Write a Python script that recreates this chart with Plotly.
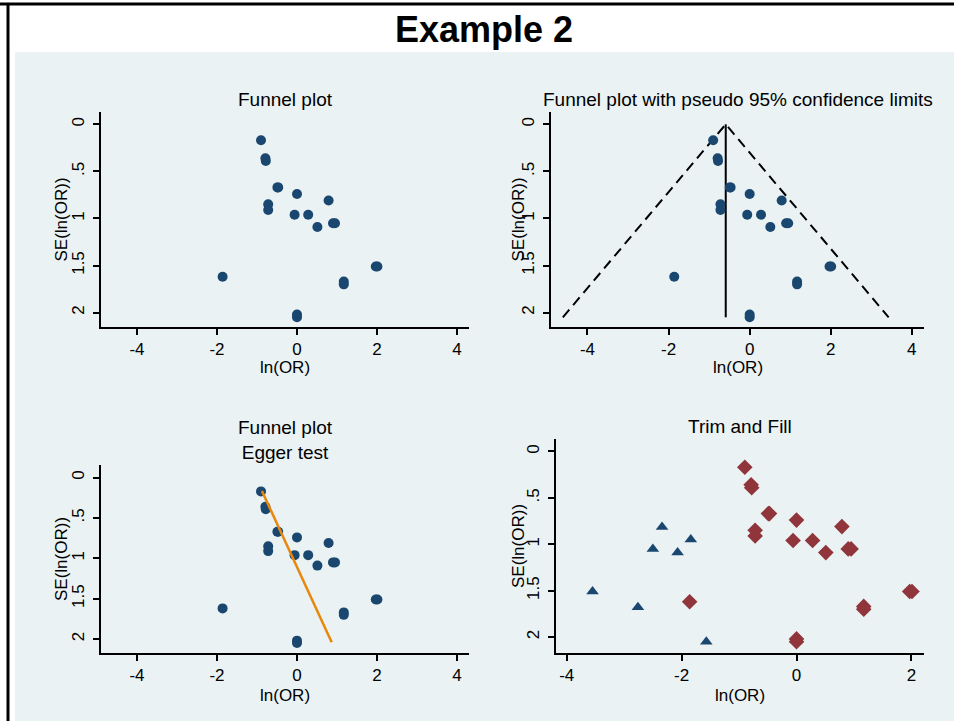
import plotly.graph_objects as go

# ---------------- data ----------------
ln_or = [-0.90, -0.79, -0.78, -0.49, -0.47, 0.00, 0.79, -0.72, -0.72, -0.06,
         0.28, 0.51, 0.90, 0.95, 1.97, 2.01, -1.86, 1.17, 1.17, 0.00, 0.00]
se_ln_or = [0.17, 0.36, 0.39, 0.67, 0.67, 0.74, 0.81, 0.85, 0.91, 0.96,
            0.96, 1.09, 1.05, 1.05, 1.51, 1.51, 1.62, 1.67, 1.70, 2.02, 2.05]

fill_ln_or = [-2.34, -1.84, -2.50, -2.07, -3.55, -2.76, -1.57]
fill_se = [0.815, 0.95, 1.05, 1.09, 1.51, 1.68, 2.05]

pooled_ln_or = -0.59
z95 = 1.96
funnel_se_max = 2.05

egger_intercept = -1.03
egger_slope = 0.93
egger_se_range = [0.165, 2.04]

x_ticks = [-4, -2, 0, 2, 4]
x_ticks_tf = [-4, -2, 0, 2]
y_ticks = [0, 0.5, 1, 1.5, 2]
y_tick_text = ["0", ".5", "1", "1.5", "2"]

panel_titles = ["Funnel plot", "Funnel plot with pseudo 95% confidence limits",
                "Funnel plot<br>Egger test", "Trim and Fill"]
x_title = "ln(OR)"
y_title = "SE(ln(OR))"
main_title = "Example 2"

# ---------------- styling ----------------
W, H = 954, 721
NAVY = "#1A476F"
MAROON = "#90353B"
ORANGE = "#E8870C"
BG = "#EAF2F3"
FONT = "Liberation Sans"


def px_x(p):
    return p / W


def px_y(p):
    return 1 - p / H


# panel pixel boxes: (left, right, top, bottom), x range, y range
panels = [
    dict(box=(101, 469, 112, 327), xr=[-4.9, 4.3], yr=[2.153, -0.131], xt=x_ticks),
    dict(box=(551, 924, 112, 327), xr=[-4.9, 4.3], yr=[2.153, -0.131], xt=x_ticks),
    dict(box=(101, 469, 465, 653), xr=[-4.9, 4.3], yr=[2.173, -0.157], xt=x_ticks),
    dict(box=(556, 924, 439, 653), xr=[-4.186, 2.219], yr=[2.172, -0.134], xt=x_ticks_tf),
]

fig = go.Figure()
layout = dict(
    width=W, height=H, margin=dict(l=0, r=0, t=0, b=0),
    paper_bgcolor="white", plot_bgcolor="white", showlegend=False,
    font=dict(family=FONT, color="black", size=17),
)

for i, p in enumerate(panels):
    l, r, t, b = p["box"]
    sfx = "" if i == 0 else str(i + 1)
    layout["xaxis" + sfx] = dict(
        domain=[px_x(l), px_x(r)], range=p["xr"], anchor="y" + sfx,
        tickvals=p["xt"], ticktext=[str(v) for v in p["xt"]],
        ticks="outside", ticklen=6, tickwidth=2, tickcolor="black",
        showline=True, linecolor="black", linewidth=2, mirror=False,
        showgrid=False, zeroline=False, tickfont=dict(size=17, family=FONT),
        ticklabelstandoff=0, fixedrange=True,
    )
    layout["yaxis" + sfx] = dict(
        domain=[px_y(b), px_y(t)], range=p["yr"], anchor="x" + sfx,
        tickvals=y_ticks, ticktext=y_tick_text, tickangle=-90,
        ticks="outside", ticklen=6, tickwidth=2, tickcolor="black",
        showline=True, linecolor="black", linewidth=2, mirror=False,
        showgrid=True, gridcolor=BG, gridwidth=2, zeroline=False,
        tickfont=dict(size=17, family=FONT), ticklabelstandoff=2, fixedrange=True,
    )

# Panel 1: funnel plot
fig.add_trace(go.Scatter(x=ln_or, y=se_ln_or, mode="markers", xaxis="x", yaxis="y",
                         marker=dict(color=NAVY, size=10, symbol="circle")))

# Panel 2: funnel with pseudo 95% limits
fig.add_trace(go.Scatter(
    x=[pooled_ln_or - z95 * funnel_se_max, pooled_ln_or, pooled_ln_or + z95 * funnel_se_max],
    y=[funnel_se_max, 0, funnel_se_max], mode="lines", xaxis="x2", yaxis="y2",
    line=dict(color="black", width=2, dash="10px,6px")))
fig.add_trace(go.Scatter(x=[pooled_ln_or, pooled_ln_or], y=[0, funnel_se_max],
                         mode="lines", xaxis="x2", yaxis="y2",
                         line=dict(color="black", width=2)))
fig.add_trace(go.Scatter(x=ln_or, y=se_ln_or, mode="markers", xaxis="x2", yaxis="y2",
                         marker=dict(color=NAVY, size=10, symbol="circle")))

# Panel 3: Egger test
fig.add_trace(go.Scatter(x=ln_or, y=se_ln_or, mode="markers", xaxis="x3", yaxis="y3",
                         marker=dict(color=NAVY, size=10, symbol="circle")))
fig.add_trace(go.Scatter(
    x=[egger_intercept + egger_slope * s for s in egger_se_range], y=egger_se_range,
    mode="lines", xaxis="x3", yaxis="y3", line=dict(color=ORANGE, width=2.5)))

# Panel 4: trim and fill
fig.add_trace(go.Scatter(x=fill_ln_or, y=fill_se, mode="markers", xaxis="x4", yaxis="y4",
                         marker=dict(color=NAVY, size=11, symbol="triangle-up")))
fig.add_trace(go.Scatter(x=ln_or, y=se_ln_or, mode="markers", xaxis="x4", yaxis="y4",
                         marker=dict(color=MAROON, size=12, symbol="diamond")))

# background and frame
shapes = [
    dict(type="rect", xref="paper", yref="paper", x0=px_x(15), x1=1.01, y0=-0.01, y1=px_y(52),
         fillcolor=BG, line=dict(width=0), layer="below"),
    dict(type="line", xref="paper", yref="paper", x0=0, x1=1, y0=px_y(4), y1=px_y(4),
         line=dict(color="black", width=3)),
    dict(type="line", xref="paper", yref="paper", x0=px_x(8), x1=px_x(8), y0=0, y1=px_y(4),
         line=dict(color="black", width=3)),
]

annotations = [
    dict(text="<b>" + main_title + "</b>", x=px_x(484), y=px_y(30), xref="paper", yref="paper",
         showarrow=False, font=dict(size=36, family=FONT, color="black"),
         xanchor="center", yanchor="middle"),
]

title_pos = [(285, 100), (738, 100), (285, 440), (740, 427)]
ytitle_x = [61, 518, 61, 518]
xtitle_y = [367, 367, 695, 695]
for i, p in enumerate(panels):
    l, r, t, b = p["box"]
    tx, ty = title_pos[i]
    annotations.append(dict(text=panel_titles[i], x=px_x(tx), y=px_y(ty), xref="paper",
                            yref="paper", showarrow=False,
                            font=dict(size=19, family=FONT, color="black"),
                            xanchor="center", yanchor="middle"))
    annotations.append(dict(text=x_title, x=px_x((l + r) / 2), y=px_y(xtitle_y[i]),
                            xref="paper", yref="paper", showarrow=False,
                            font=dict(size=17, family=FONT, color="black"),
                            xanchor="center", yanchor="middle"))
    annotations.append(dict(text=y_title, x=px_x(ytitle_x[i]), y=px_y((t + b) / 2),
                            xref="paper", yref="paper", showarrow=False, textangle=-90,
                            font=dict(size=17, family=FONT, color="black"),
                            xanchor="center", yanchor="middle"))

layout["shapes"] = shapes
layout["annotations"] = annotations
fig.update_layout(**layout)
fig.write_html("out.html", config={"displayModeBar": False})
